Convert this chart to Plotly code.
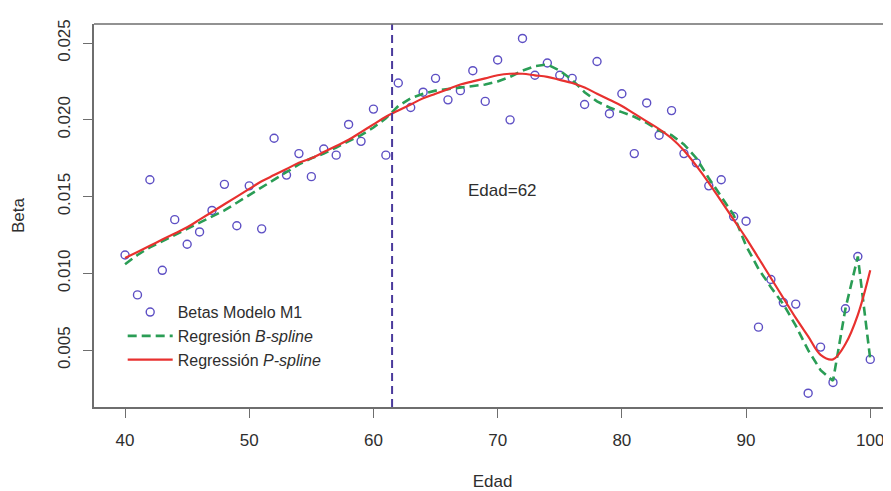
import plotly.graph_objects as go

edad = list(range(40, 101))

betas = [0.0112, 0.0086, 0.0161, 0.0102, 0.0135, 0.0119, 0.0127, 0.0141, 0.0158, 0.0131,
         0.0157, 0.0129, 0.0188, 0.0164, 0.0178, 0.0163, 0.0181, 0.0177, 0.0197, 0.0186,
         0.0207, 0.0177, 0.0224, 0.0208, 0.0218, 0.0227, 0.0213, 0.0219, 0.0232, 0.0212,
         0.0239, 0.0200, 0.0253, 0.0229, 0.0237, 0.0229, 0.0227, 0.0210, 0.0238, 0.0204,
         0.0217, 0.0178, 0.0211, 0.0190, 0.0206, 0.0178, 0.0172, 0.0157, 0.0161, 0.0137,
         0.0134, 0.0065, 0.0096, 0.0081, 0.0080, 0.0022, 0.0052, 0.0029, 0.0077, 0.0111,
         0.0044]

bspline = [0.0106, 0.0112, 0.0117, 0.0121, 0.0125, 0.0129, 0.0133, 0.0137, 0.0141, 0.0146,
           0.0151, 0.0156, 0.0161, 0.0166, 0.0171, 0.0175, 0.0178, 0.0182, 0.0186, 0.0190,
           0.0195, 0.0201, 0.0209, 0.0214, 0.0217, 0.0219, 0.0220, 0.0221, 0.0222, 0.0223,
           0.0225, 0.0228, 0.0232, 0.0235, 0.0236, 0.0232, 0.0226, 0.0218, 0.0212, 0.0208,
           0.0205, 0.0202, 0.0198, 0.0193, 0.0190, 0.0184, 0.0175, 0.0162, 0.0150, 0.0138,
           0.0118, 0.0103, 0.0091, 0.0080, 0.0066, 0.0050, 0.0037, 0.0030, 0.0077, 0.0111,
           0.0044]

pspline = [0.0110, 0.0114, 0.0118, 0.0122, 0.0126, 0.0130, 0.0135, 0.0140, 0.0145, 0.0150,
           0.0155, 0.0160, 0.0164, 0.0168, 0.0172, 0.0175, 0.0179, 0.0183, 0.0187, 0.0192,
           0.0197, 0.0202, 0.0206, 0.0210, 0.0214, 0.0217, 0.0220, 0.0223, 0.0225, 0.0227,
           0.0229, 0.0230, 0.0230, 0.0229, 0.0228, 0.0226, 0.0224, 0.0221, 0.0217, 0.0213,
           0.0209, 0.0204, 0.0199, 0.0194, 0.0188, 0.0180, 0.0170, 0.0159, 0.0147, 0.0135,
           0.0123, 0.0110, 0.0097, 0.0084, 0.0071, 0.0059, 0.0047, 0.0044, 0.0054, 0.0073,
           0.0102]

corte = 61.5
etiqueta_corte = "Edad=62"
etiqueta_x, etiqueta_y = 70.4, 0.0154

x_ticks = [40, 50, 60, 70, 80, 90, 100]
y_ticks = [0.005, 0.010, 0.015, 0.020, 0.025]
y_ticktext = ["0.005", "0.010", "0.015", "0.020", "0.025"]

FONT = "Liberation Sans, Arial, sans-serif"
TXT = "#2e2e2e"
AX = "#6e6e6e"

fig = go.Figure()
fig.add_trace(go.Scatter(
    x=edad, y=betas, mode="markers", name="Betas Modelo M1",
    marker=dict(symbol="circle-open", size=8, color="#5d4fc4", line=dict(width=1.4, color="#5d4fc4")),
))
fig.add_trace(go.Scatter(
    x=edad, y=bspline, mode="lines", name="Regresión <i>B-spline</i>",
    line=dict(color="#2a9d55", width=2.6, dash="9px,5px"),
))
fig.add_trace(go.Scatter(
    x=edad, y=pspline, mode="lines", name="Regressión <i>P-spline</i>",
    line=dict(color="#e8312f", width=2.2, shape="spline"),
))

fig.add_vline(x=corte, line=dict(color="#4a3a9c", width=2, dash="8px,5px"))

fig.add_annotation(x=etiqueta_x, y=etiqueta_y, text=etiqueta_corte, showarrow=False,
                   font=dict(family=FONT, size=17, color=TXT))

# the page body has an 8px default margin, so the figure is sized to fit the window
fig.update_layout(
    width=883, height=483,
    margin=dict(l=86, r=0, t=16, b=84, autoexpand=False),
    paper_bgcolor="white", plot_bgcolor="white",
    font=dict(family=FONT, size=17, color=TXT),
    showlegend=True,
    legend=dict(x=0.036, y=0.292, xanchor="left", yanchor="top",
                bgcolor="rgba(0,0,0,0)", itemwidth=45, tracegroupgap=0,
                font=dict(family=FONT, size=16, color=TXT)),
    xaxis=dict(range=[37.5, 101.67], tickvals=x_ticks, ticks="outside", ticklen=9,
               tickcolor=AX, showgrid=False, zeroline=False, showline=True,
               linecolor=AX, linewidth=1.5, mirror=False, ticklabelstandoff=8,
               automargin=True,
               title=dict(text="Edad", standoff=35, font=dict(size=17, color=TXT))),
    yaxis=dict(range=[0.0013, 0.02624], tickvals=y_ticks, ticktext=y_ticktext,
               tickangle=-90, ticks="outside", ticklen=9, tickcolor=AX,
               showgrid=False, zeroline=False, showline=True, linecolor=AX,
               linewidth=1.5, ticklabelstandoff=6, automargin=False,
               title=dict(text="Beta", standoff=27, font=dict(size=17, color=TXT))),
)
# top border of the box (R box), right side falls outside the visible window
fig.add_shape(type="line", xref="paper", yref="paper", x0=0, x1=1, y0=1, y1=1,
              line=dict(color=AX, width=1.5))

fig.write_html("out.html")
